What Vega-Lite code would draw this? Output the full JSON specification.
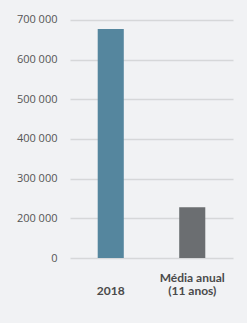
{
  "$schema": "https://vega.github.io/schema/vega-lite/v6.json",
  "width": 163,
  "height": 246,
  "autosize": "none",
  "padding": {"left": 70, "top": 12, "right": 14, "bottom": 65},
  "background": "#f1f2f4",
  "config": {
    "view": {"stroke": null},
    "locale": {"number": {"decimal": ",", "thousands": " ", "grouping": [3], "currency": ["", " €"]}}
  },
  "data": {
    "values": [
      {"categoria": "2018", "valor": 677000},
      {"categoria": "Média anual (11 anos)", "valor": 228000}
    ]
  },
  "mark": {"type": "bar", "clip": true},
  "encoding": {
    "x": {
      "field": "categoria",
      "type": "nominal",
      "sort": null,
      "scale": {"paddingInner": 0.68, "paddingOuter": 0.34},
      "axis": {
        "title": null,
        "labelAngle": 0,
        "ticks": false,
        "domain": false,
        "labelPadding": 26,
        "labelBaseline": "bottom",
        "labelFont": "Lato",
        "labelFontWeight": "bold",
        "labelFontSize": 12,
        "labelColor": "#4a4a4a",
        "labelLineHeight": 13.5,
        "labelExpr": "datum.value == '2018' ? [' ', '2018'] : ['Média anual', '(11 anos)']"
      }
    },
    "y": {
      "field": "valor",
      "type": "quantitative",
      "scale": {"domain": [100000, 720000], "zero": false, "nice": false},
      "axis": {
        "title": null,
        "values": [100000, 200000, 300000, 400000, 500000, 600000, 700000],
        "labelExpr": "datum.value == 100000 ? '0' : format(datum.value, ',')",
        "ticks": false,
        "domain": false,
        "labelPadding": 13,
        "labelFont": "Open Sans",
        "labelFontSize": 11,
        "labelColor": "#555555",
        "gridColor": "#d6d7d9",
        "gridWidth": 1.5
      }
    },
    "color": {
      "field": "categoria",
      "type": "nominal",
      "scale": {"domain": ["2018", "Média anual (11 anos)"], "range": ["#55869e", "#6b6e71"]},
      "legend": null
    }
  }
}
